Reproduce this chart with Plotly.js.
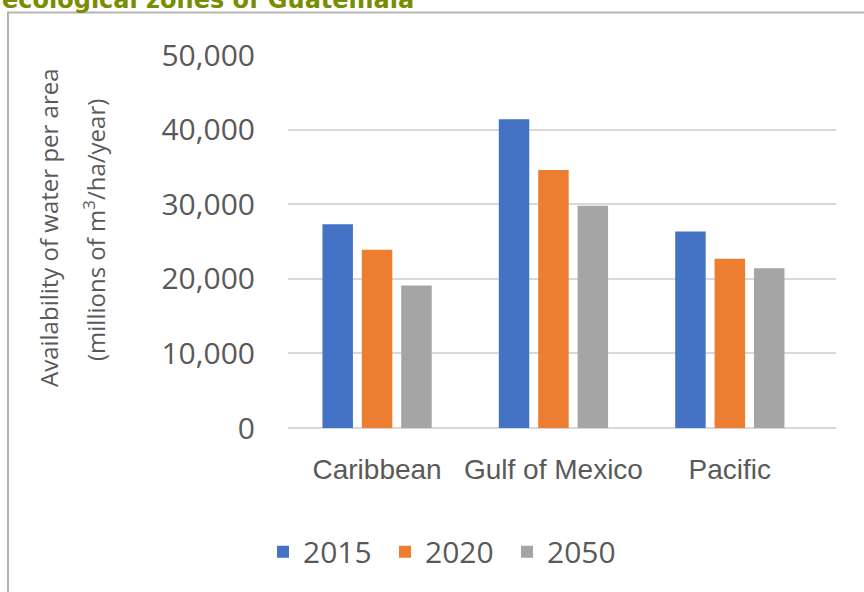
<!DOCTYPE html>
<html>
<head>
<meta charset="utf-8">
<script src="https://cdn.plot.ly/plotly-3.0.1.min.js"></script>
<style>html,body{margin:0;padding:0;background:#fff;}#chart{width:864px;height:592px;}</style>
</head>
<body>
<div id="chart"></div>
<script>
// ---- data ----
var categories = ["Caribbean", "Gulf of Mexico", "Pacific"];
var seriesNames = ["2015", "2020", "2050"];
var values2015 = [27300, 41400, 26350];
var values2020 = [23900, 34600, 22700];
var values2050 = [19100, 29800, 21400];
var yTickVals = [0, 10000, 20000, 30000, 40000, 50000];
var yTickText = ["0", "10,000", "20,000", "30,000", "40,000", "50,000"];
var yTitleLines = ["Availability of water per area", "(millions of m<sup>3</sup>/ha/year)"];
var chartTitle = "ecological zones of Guatemala";
var colors = ["#4472c4", "#ed7d31", "#a5a5a5"];

var seriesValues = [values2015, values2020, values2050];
var traces = seriesNames.map(function (name, i) {
  return {
    type: "bar",
    name: name,
    x: categories,
    y: seriesValues[i],
    marker: { color: colors[i] },
    hoverinfo: "x+y+name"
  };
});

// pixel -> paper helpers for the 864x592 frame
var L = 288, R = 836, T = 55, B = 428;
function px(x) { return (x - L) / (R - L); }
function py(y) { return (B - y) / (B - T); }

var textColor = "#595959";
var layout = {
  width: 864,
  height: 592,
  paper_bgcolor: "#ffffff",
  plot_bgcolor: "#ffffff",
  margin: { l: L, r: 864 - R, t: T, b: 592 - B, pad: 0 },
  barmode: "group",
  bargap: 0.33,
  bargroupgap: 0.226,
  showlegend: true,
  legend: {
    orientation: "h",
    xref: "container",
    yref: "container",
    x: 263 / 864,
    xanchor: "left",
    y: 0.068,
    yanchor: "middle",
    entrywidth: 77,
    font: { family: "Open Sans", size: 30, color: textColor },
    bgcolor: "rgba(0,0,0,0)"
  },
  xaxis: {
    type: "category",
    range: [-0.505, 2.602],
    showgrid: false,
    showline: false,
    zeroline: false,
    ticks: "",
    ticklabelstandoff: 22,
    tickfont: { family: "Liberation Sans, Arial, sans-serif", size: 28, color: textColor },
    fixedrange: true
  },
  yaxis: {
    range: [0, 50000],
    tickmode: "array",
    tickvals: yTickVals,
    ticktext: yTickText,
    showgrid: true,
    gridcolor: "#d9d9d9",
    gridwidth: 2,
    zeroline: true,
    zerolinecolor: "#d9d9d9",
    zerolinewidth: 2,
    showline: false,
    ticks: "",
    ticklabelstandoff: 32,
    tickfont: { family: "Open Sans", size: 30, color: textColor },
    automargin: false,
    fixedrange: true
  },
  shapes: [
    {
      type: "rect",
      xref: "paper",
      yref: "paper",
      x0: px(8),
      x1: px(875),
      y0: py(605),
      y1: py(12.5),
      line: { color: "#b4b4b4", width: 2 },
      fillcolor: "rgba(0,0,0,0)",
      layer: "below"
    }
  ],
  annotations: [
    {
      text: "<b>" + chartTitle + "</b>",
      xref: "paper",
      yref: "paper",
      x: px(0),
      xanchor: "left",
      y: py(16),
      yanchor: "bottom",
      showarrow: false,
      font: { family: "DejaVu Sans", size: 24, color: "#7a8c00" }
    },
    {
      text: yTitleLines[0],
      xref: "paper",
      yref: "paper",
      x: px(48),
      xanchor: "center",
      y: py(228),
      yanchor: "middle",
      textangle: -90,
      showarrow: false,
      font: { family: "Open Sans", size: 24, color: textColor }
    },
    {
      text: yTitleLines[1],
      xref: "paper",
      yref: "paper",
      x: px(94),
      xanchor: "center",
      y: py(230),
      yanchor: "middle",
      textangle: -90,
      showarrow: false,
      font: { family: "Open Sans", size: 24, color: textColor }
    }
  ]
};

Plotly.newPlot("chart", traces, layout, { displayModeBar: false, staticPlot: true });
</script>
</body>
</html>
